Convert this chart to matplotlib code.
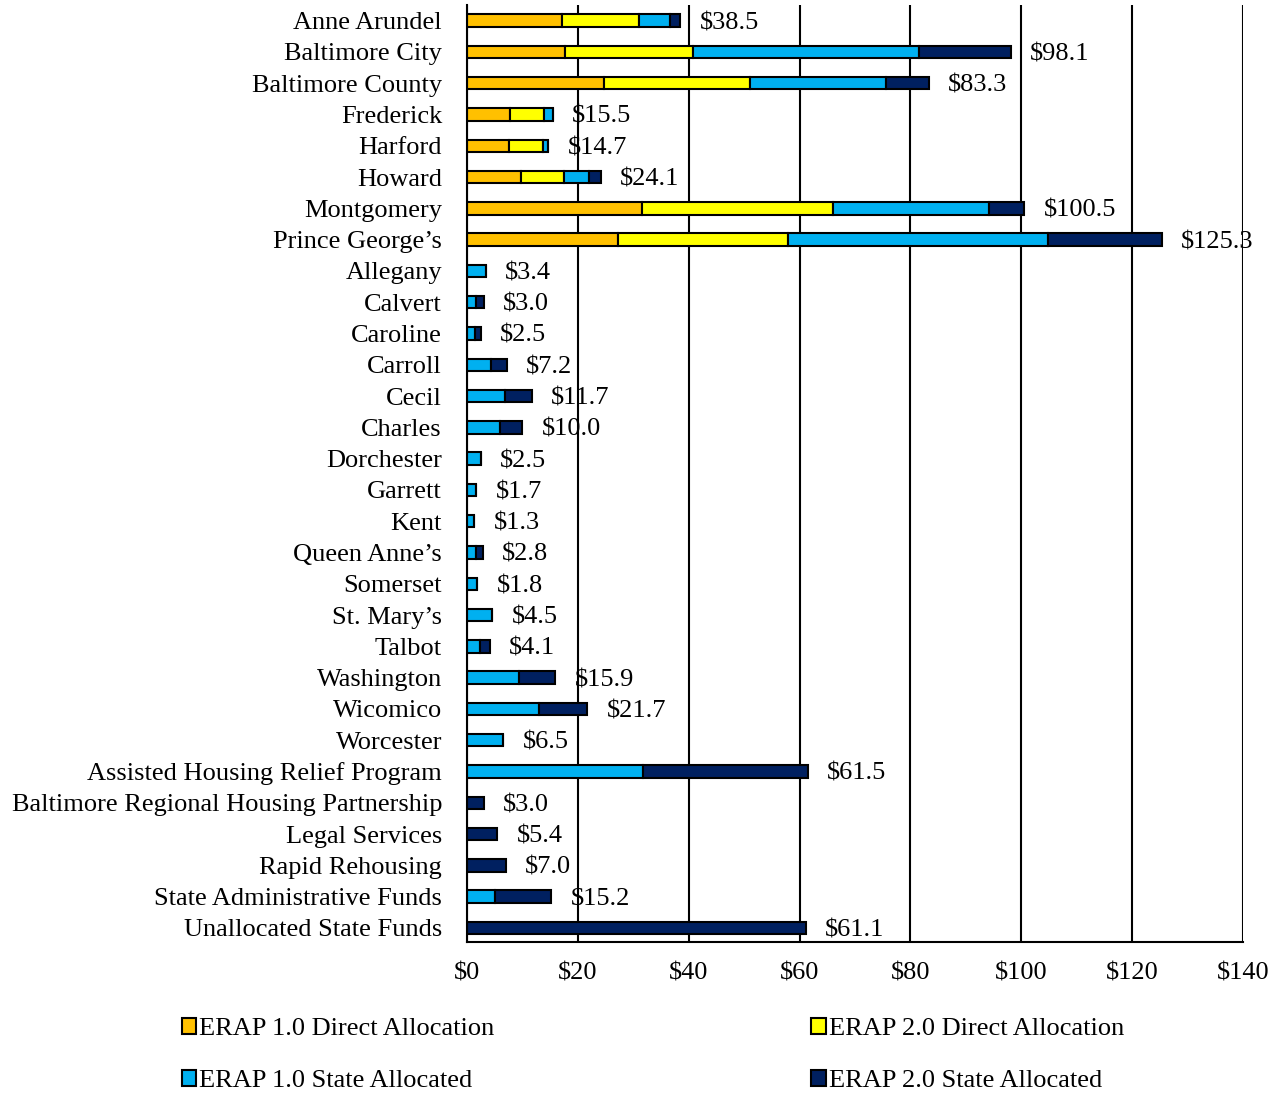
import numpy as np
import matplotlib.pyplot as plt

plt.rcParams['font.family'] = ['Liberation Serif', 'DejaVu Serif']

# ERAP funding by jurisdiction ($ millions)
counties = ["Anne Arundel", "Baltimore City", "Baltimore County", "Frederick", "Harford",
            "Howard", "Montgomery", "Prince George\u2019s", "Allegany", "Calvert", "Caroline",
            "Carroll", "Cecil", "Charles", "Dorchester", "Garrett", "Kent", "Queen Anne\u2019s",
            "Somerset", "St. Mary\u2019s", "Talbot", "Washington", "Wicomico", "Worcester",
            "Assisted Housing Relief Program", "Baltimore Regional Housing Partnership",
            "Legal Services", "Rapid Rehousing", "State Administrative Funds",
            "Unallocated State Funds"]

erap1_direct = [17.2, 17.7, 24.7, 7.8, 7.6, 9.7, 31.5, 27.2, 0, 0, 0, 0, 0, 0, 0, 0, 0, 0,
                0, 0, 0, 0, 0, 0, 0, 0, 0, 0, 0, 0]
erap2_direct = [13.8, 23.1, 26.4, 6.1, 6.1, 7.8, 34.5, 30.8, 0, 0, 0, 0, 0, 0, 0, 0, 0, 0,
                0, 0, 0, 0, 0, 0, 0, 0, 0, 0, 0, 0]
erap1_state = [5.6, 40.7, 24.5, 1.6, 1.0, 4.5, 28.2, 46.9, 3.4, 1.7, 1.4, 4.3, 6.9, 6.0,
               2.5, 1.7, 1.3, 1.6, 1.8, 4.5, 2.4, 9.4, 12.9, 6.5, 31.7, 0, 0, 0, 5.1, 0]
erap2_state = [1.9, 16.6, 7.7, 0, 0, 2.1, 6.3, 20.4, 0, 1.3, 1.1, 2.9, 4.8, 4.0, 0, 0, 0,
               1.2, 0, 0, 1.7, 6.5, 8.8, 0, 29.8, 3.0, 5.4, 7.0, 10.1, 61.1]
totals = [38.5, 98.1, 83.3, 15.5, 14.7, 24.1, 100.5, 125.3, 3.4, 3.0, 2.5, 7.2, 11.7, 10.0,
          2.5, 1.7, 1.3, 2.8, 1.8, 4.5, 4.1, 15.9, 21.7, 6.5, 61.5, 3.0, 5.4, 7.0, 15.2, 61.1]

series = [("ERAP 1.0 Direct Allocation", erap1_direct, "#FFC000"),
          ("ERAP 2.0 Direct Allocation", erap2_direct, "#FFFF00"),
          ("ERAP 1.0 State Allocated", erap1_state, "#00B0F0"),
          ("ERAP 2.0 State Allocated", erap2_state, "#002060")]

FS = 19

fig = plt.figure(figsize=(12.85, 10.93), dpi=100)
ax = fig.add_axes([467 / 1285, 1 - 942 / 1093, 776 / 1285, 937 / 1093])

y = np.arange(len(counties))
left = np.zeros(len(counties))
handles = []
for name, vals, col in series:
    vals = np.array(vals)
    h = ax.barh(y, vals, left=left, height=0.4, color=col, edgecolor="black",
                linewidth=1.5, label=name, zorder=3)
    handles.append(h)
    left += vals

for yi, tot in zip(y, totals):
    ax.annotate(f"${tot:.1f}", xy=(tot, yi), xytext=(14, 0), textcoords="offset points",
                va="center_baseline", ha="left", fontsize=FS, zorder=4)

ax.set_xlim(0, 140)
ax.set_ylim(len(counties) - 0.55, -0.5)
ax.set_xticks(np.arange(0, 141, 20))
ax.set_xticklabels([f"${v}" for v in range(0, 141, 20)], fontsize=FS)
ax.set_yticks(y)
ax.set_yticklabels(counties, fontsize=FS, va="center_baseline")
ax.tick_params(axis="both", length=0)
ax.tick_params(axis="y", pad=18)
ax.tick_params(axis="x", pad=15)
ax.grid(axis="x", color="black", linewidth=1.5, zorder=0)
for s in ["top", "right"]:
    ax.spines[s].set_visible(False)
for s in ["left", "bottom"]:
    ax.spines[s].set_linewidth(1.5)
    ax.spines[s].set_zorder(5)

# row-wise legend: 1.0/2.0 direct on top, state allocated below
order = [handles[0], handles[2], handles[1], handles[3]]
fig.legend(handles=order, loc="lower left", bbox_to_anchor=(158 / 1285, -0.021),
           ncol=2, frameon=False, fontsize=FS, handlelength=0.55, handleheight=0.55,
           handletextpad=0.12, columnspacing=12.0, labelspacing=1.12)

fig.savefig("out.png", dpi=100)
